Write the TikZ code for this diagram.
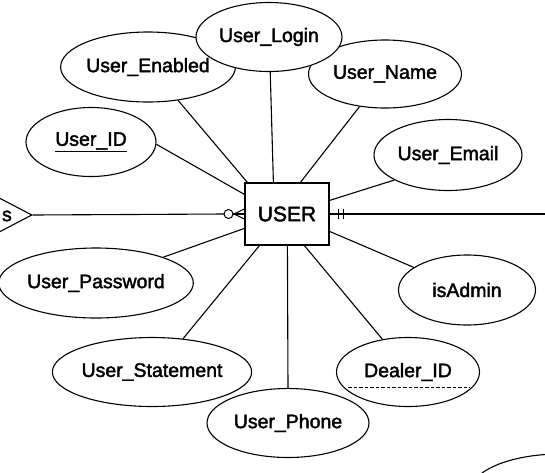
\documentclass[tikz,border=0pt]{standalone}
\usepackage{fontspec}
\setmainfont{Liberation Sans}
\newfontfamily\labelfont{Liberation Sans}[FakeBold=2]
\usetikzlibrary{shapes.geometric,calc}

\tikzset{
  attr/.style={ellipse, draw, fill=white, line width=1.1pt, inner sep=0pt,
    font=\labelfont\fontsize{19.5}{22}\selectfont},
  entitybox/.style={rectangle, draw, fill=white, line width=1.2pt, inner sep=0pt,
    minimum width=84pt, minimum height=62pt, font=\labelfont\fontsize{21}{24}\selectfont},
  reln/.style={diamond, draw, line width=1.1pt, inner sep=0pt, aspect=1.9},
  link/.style={line width=1.1pt},
}

\begin{document}
\begin{tikzpicture}[x=1pt,y=-1pt]
\useasboundingbox (0,0) rectangle (545,472);
\clip (0,0) rectangle (545,472);

% entity
\node[entitybox] (user) at (287,214) {USER};

% attributes
\node[attr, minimum width=172pt, minimum height=70pt] (enabled) at (148,67) {User\_Enabled};
\node[attr, minimum width=153pt, minimum height=68pt] (name) at (385,74) {User\_Name};
\node[attr, minimum width=146pt, minimum height=69pt] (login) at (269,37) {User\_Login};
\node[attr, minimum width=130pt, minimum height=69pt] (uid) at (91,142) {\underline{User\_ID}};
\node[attr, minimum width=148pt, minimum height=71pt] (email) at (448,155) {User\_Email};
\node[attr, minimum width=189pt, minimum height=70pt] (password) at (96,283) {User\_Password};
\node[attr, minimum width=137pt, minimum height=70pt] (admin) at (467,290) {isAdmin};
\node[attr, minimum width=197pt, minimum height=69pt] (statement) at (152,372) {User\_Statement};
\node[attr, minimum width=143pt, minimum height=69pt] (dealer) at (408,372) {Dealer\_ID};
\node[attr, minimum width=162pt, minimum height=69pt] (phone) at (288,423) {User\_Phone};
\node[attr, minimum width=180pt, minimum height=76pt] (other) at (560,492) {};

% partial key of Dealer_ID
\draw[line width=0.8pt, dash pattern=on 3.5pt off 2pt]
  ($(dealer.center)+(-60,15)$) -- ($(dealer.center)+(62,15)$);

% attribute links
\draw[link] ($(user.north west)+(29,0)$) -- (login.-88);
\draw[link] ($(user.north west)+(3,0)$) -- (enabled.-48.7);
\draw[link] ($(user.north west)+(56,0)$) -- (name.-128.5);
\draw[link] ($(user.north west)+(0,12)$) -- (uid.-2);
\draw[link] ($(user.north east)+(0,18)$) -- (email.-155);
\draw[link] ($(user.north east)+(0,49)$) -- (admin.157.8);
\draw[link] ($(user.north west)+(0,46)$) -- (password.21.2);
\draw[link] ($(user.south west)+(15,0)$) -- (statement.47.7);
\draw[link] ($(user.south west)+(43,0)$) -- (phone.90);
\draw[link] ($(user.south west)+(60,0)$) -- (dealer.128);

% relationship on the left
\node[reln, minimum width=120pt, minimum height=63pt] (rel) at (-28,215) {};
\node[font=\labelfont\fontsize{19.5}{22}\selectfont, anchor=east, inner sep=0pt] (relname) at (12,216) {s};

% zero-or-many end at USER
\coordinate (ring) at (228.5,214);
\coordinate (foot) at (234,214);
\draw[link] (rel.east) -- ($(ring)+(-4.5,0)$);
\draw[line width=1pt] (ring) circle (4.5pt);
\draw[link] ($(ring)+(4.5,0)$) -- (user.west);
\draw[line width=1pt] (foot) -- ($(user.west)+(0,-5)$);
\draw[line width=1pt] (foot) -- ($(user.west)+(0,5)$);

% one-and-only-one end on the right
\coordinate (rightend) at (548,214);
\draw[link] (user.east) -- (rightend);
\draw[line width=1pt] ($(user.east)+(9,-5)$) -- ($(user.east)+(9,5)$);
\draw[line width=1pt] ($(user.east)+(14,-5)$) -- ($(user.east)+(14,5)$);
\end{tikzpicture}
\end{document}
